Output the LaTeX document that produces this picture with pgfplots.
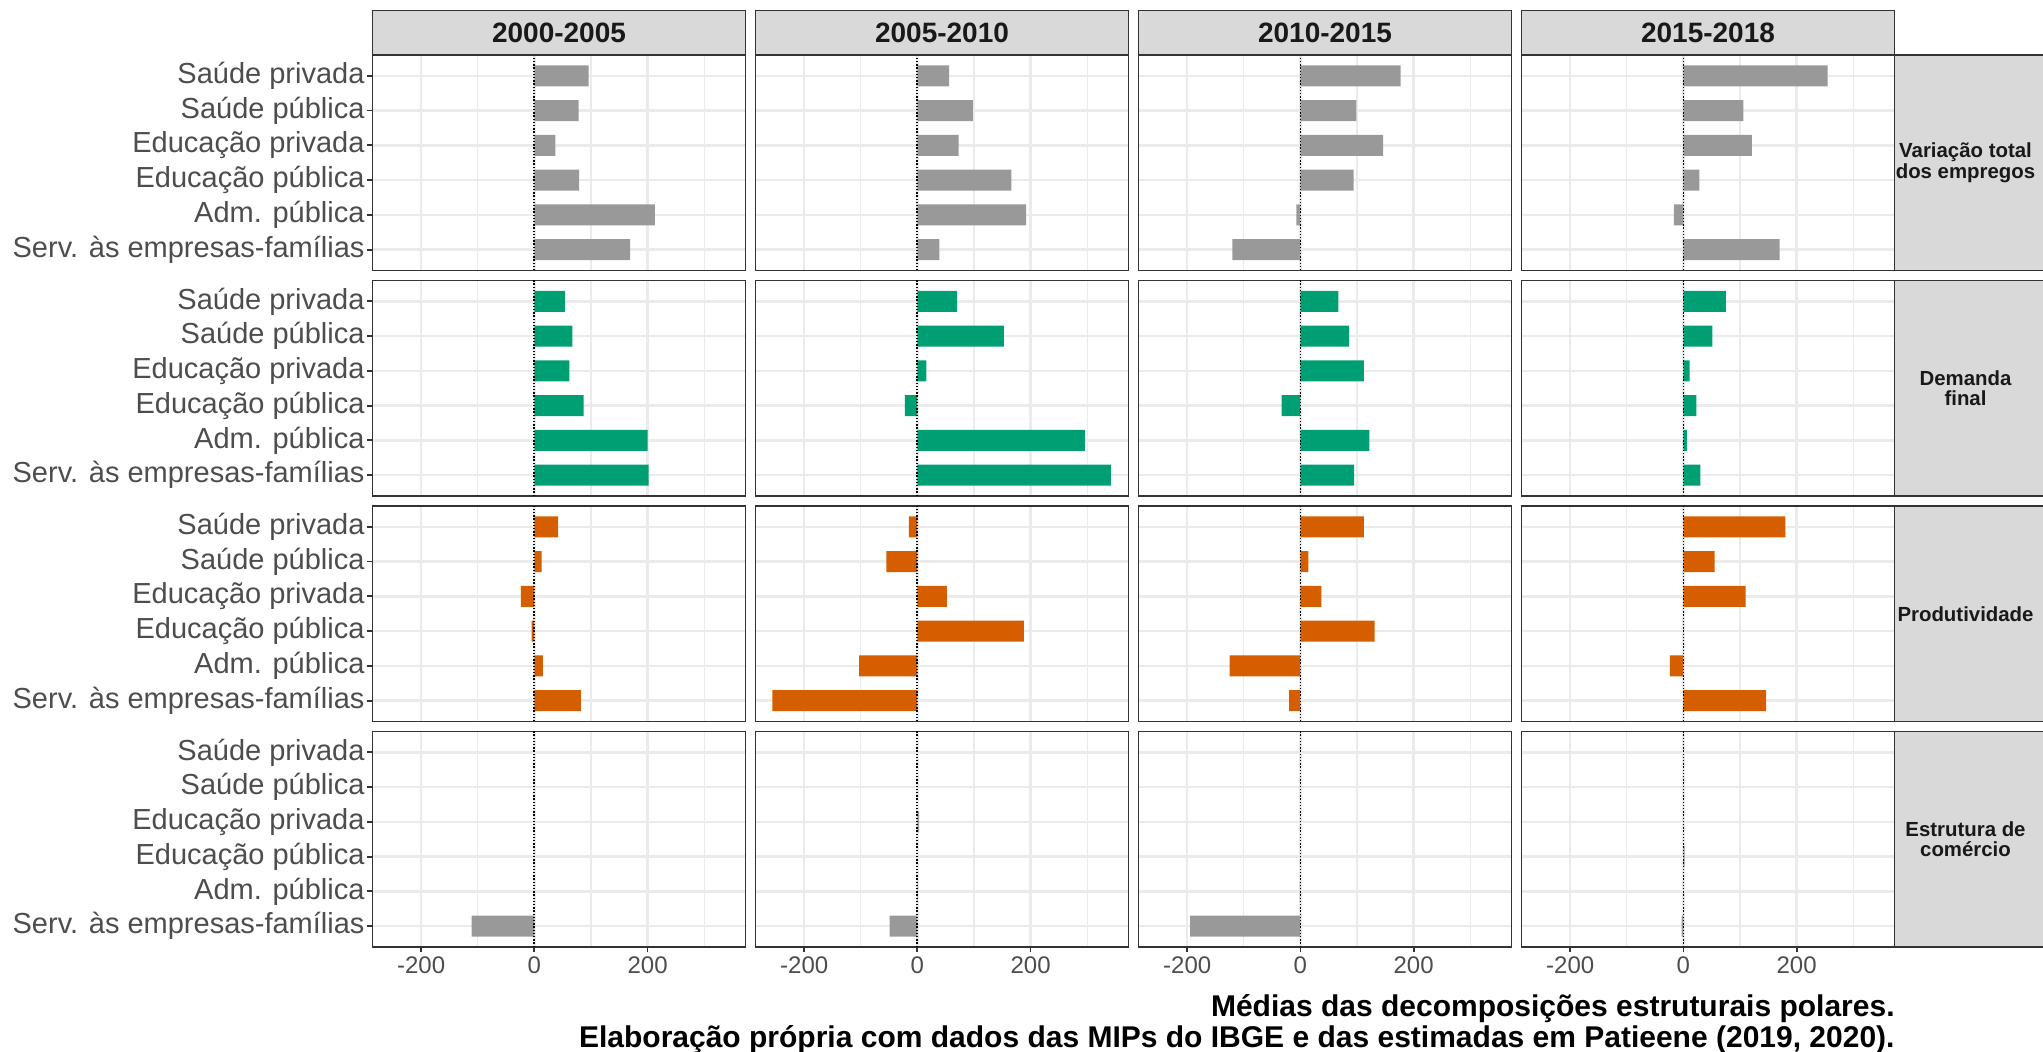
\documentclass[border=0pt]{standalone}
\usepackage{fontspec}
\setmainfont{Liberation Sans}
\usepackage{pgfplots}
\pgfplotsset{compat=1.18}
\definecolor{gray20}{HTML}{333333}
\definecolor{gray30}{HTML}{4D4D4D}
\definecolor{gridc}{HTML}{EBEBEB}
\definecolor{stripc}{HTML}{D9D9D9}
\definecolor{bargray}{HTML}{999999}
\definecolor{bargreen}{HTML}{009E73}
\definecolor{barorange}{HTML}{D55E00}
\pgfplotsset{
  panel/.style={
    scale only axis, width=186.5pt, height=107.75pt,
    anchor=north west,
    xmin=-286, xmax=373, ymin=0.4, ymax=6.6,
    xtick={-200,0,200}, minor xtick={-100,100,300},
    ytick={1,2,3,4,5,6},
    xticklabels={}, yticklabels={},
    xtick pos=left, ytick pos=left,
    grid=both,
    major grid style={line width=1.2pt, draw=gridc},
    minor grid style={line width=0.6pt, draw=gridc},
    axis line style={line width=0.9pt, draw=gray20},
    tick style={line width=0.9pt, draw=gray20},
    tick align=outside, major tick length=2.6pt, minor tick length=0pt,
    xtick style={draw=none}, ytick style={draw=none},
    xbar, bar width=0.6, bar shift=0pt,
  },
  firstcol/.style={
    ytick style={draw=gray20, line width=0.9pt},
    yticklabels={Serv. às empresas-famílias, Adm. pública, Educação pública, Educação privada, Saúde pública, Saúde privada},
    yticklabel style={font=\fontsize{14.5}{16}\selectfont, text=gray30, inner sep=1.2pt},
  },
  lastrow/.style={
    xtick style={draw=gray20, line width=0.9pt},
    xticklabels={-200,0,200},
    xticklabel style={font=\fontsize{12}{14}\selectfont, text=gray30, inner sep=2pt},
  },
}
\newcommand{\panel}[6]{%
\begin{axis}[panel, name=#1, at={(#2,#3)}, #5]
\addplot[fill=#4, draw=none] coordinates {#6};
\draw[black, line width=0.9pt, dash pattern=on 0.7pt off 0.9pt] (axis cs:0,0.4) -- (axis cs:0,6.6);
\end{axis}}
\begin{document}
\begin{tikzpicture}
\useasboundingbox (0,0) rectangle (1021.5pt,526pt);
% row 1: Variacao total
\panel{a1}{186.25pt}{498.5pt}{bargray}{firstcol}{(96,6) (78,5) (37,4) (79,3) (213,2) (169,1)}
\panel{a2}{377.75pt}{498.5pt}{bargray}{}{(56,6) (98,5) (73,4) (166,3) (192,2) (39,1)}
\panel{a3}{569.25pt}{498.5pt}{bargray}{}{(177,6) (99,5) (146,4) (94,3) (-7,2) (-120,1)}
\panel{a4}{760.75pt}{498.5pt}{bargray}{}{(255,6) (106,5) (121,4) (28,3) (-17,2) (170,1)}
% row 2: Demanda final
\panel{b1}{186.25pt}{385.75pt}{bargreen}{firstcol}{(54,6) (67,5) (62,4) (87,3) (200,2) (202,1)}
\panel{b2}{377.75pt}{385.75pt}{bargreen}{}{(70,6) (153,5) (16,4) (-22,3) (296,2) (342,1)}
\panel{b3}{569.25pt}{385.75pt}{bargreen}{}{(67,6) (86,5) (112,4) (-33,3) (122,2) (95,1)}
\panel{b4}{760.75pt}{385.75pt}{bargreen}{}{(75,6) (51,5) (11,4) (23,3) (6,2) (30,1)}
% row 3: Produtividade
\panel{c1}{186.25pt}{273pt}{barorange}{firstcol}{(42,6) (13,5) (-24,4) (-5,3) (15,2) (82,1)}
\panel{c2}{377.75pt}{273pt}{barorange}{}{(-15,6) (-55,5) (52,4) (188,3) (-103,2) (-256,1)}
\panel{c3}{569.25pt}{273pt}{barorange}{}{(112,6) (14,5) (37,4) (131,3) (-125,2) (-20,1)}
\panel{c4}{760.75pt}{273pt}{barorange}{}{(180,6) (55,5) (110,4) (0,3) (-24,2) (146,1)}
% row 4: Estrutura de comercio
\panel{d1}{186.25pt}{160.25pt}{bargray}{firstcol,lastrow}{(0,6) (0,5) (0,4) (0,3) (0,2) (-111,1)}
\panel{d2}{377.75pt}{160.25pt}{bargray}{lastrow}{(0,6) (0,5) (3,4) (0,3) (1,2) (-49,1)}
\panel{d3}{569.25pt}{160.25pt}{bargray}{lastrow}{(0,6) (0,5) (0,4) (0,3) (-1,2) (-195,1)}
\panel{d4}{760.75pt}{160.25pt}{bargray}{lastrow}{(0,6) (0,5) (0,4) (2,3) (0,2) (-3,1)}
% top strips
\foreach \p/\t in {a1/2000-2005, a2/2005-2010, a3/2010-2015, a4/2015-2018}{
  \draw[fill=stripc, draw=gray20, line width=0.9pt] (\p.north west) rectangle ([yshift=22.25pt]\p.north east);
  \node[font=\bfseries\fontsize{14}{16}\selectfont, text=black!90] at ([yshift=11.1pt]\p.north) {\t};
}
% right strips
\foreach \p/\t in {a4/{Variação total\\dos empregos}, b4/{Demanda\\final}, c4/Produtividade, d4/{Estrutura de\\comércio}}{
  \draw[fill=stripc, draw=gray20, line width=0.9pt] (\p.north east) rectangle ([xshift=90pt]\p.south east);
  \node[font=\bfseries\fontsize{10.2}{10.2}\selectfont, text=black!90, align=center] at ([xshift=35.5pt]\p.east) {\t};
}
% caption
\node[anchor=base east, font=\bfseries\fontsize{15}{17}\selectfont, inner sep=0pt] at (947.5pt,17.5pt) {Médias das decomposições estruturais polares.};
\node[anchor=base east, font=\bfseries\fontsize{15}{17}\selectfont, inner sep=0pt] at (947.5pt,2.4pt) {Elaboração própria com dados das MIPs do IBGE e das estimadas em Patieene (2019, 2020).};
\end{tikzpicture}
\end{document}
